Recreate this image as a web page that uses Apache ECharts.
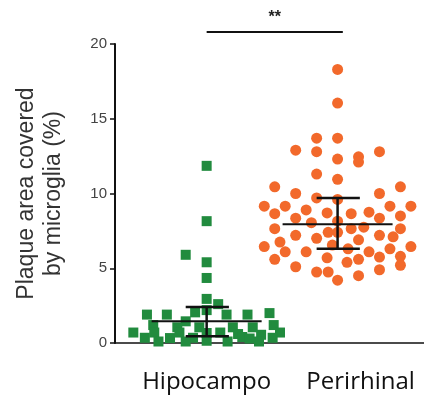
<!DOCTYPE html>
<html>
<head>
<meta charset="utf-8">
<script src="https://cdn.jsdelivr.net/npm/echarts@6/dist/echarts.min.js"></script>
<style>
  html, body { margin: 0; padding: 0; background: #fff; }
  #chart { width: 424px; height: 396px; }
</style>
</head>
<body>
<div id="chart"></div>
<script>
// groups and their place on the hidden x scale
const categories = ['Hipocampo', 'Perirhinal']
const groupPos = [1, 2]

// each point: [lane offset from group centre, value in %]
const hipocampo = [
  [0, 11.85], [0, 8.15], [-2, 5.9], [0, 5.4], [0, 4.35], [0, 2.95], [1.1, 2.6],
  [-1.1, 2.05], [0, 2.2], [-5.7, 1.9], [-3.8, 1.9], [1.9, 1.9], [3.9, 1.9], [6, 2.0],
  [-2, 1.45], [-5.1, 1.2], [-2.8, 1.05], [-0.7, 1.05], [2.5, 1.05], [4.4, 1.05],
  [6.4, 1.2], [-7, 0.7], [-5, 0.7], [-2.6, 0.7], [0, 0.67], [1.3, 0.7], [3, 0.6],
  [5.2, 0.55], [7, 0.7], [-5.9, 0.35], [-3.5, 0.33], [-1.3, 0.35], [0, 0.15],
  [2, 0.1], [3.4, 0.4], [4.1, 0.3], [6.3, 0.35], [-4.6, 0.1], [-2, 0.1], [5, 0.1]
]
const perirhinal = [
  [0, 18.3], [0, 16.05], [-2, 13.7], [0, 13.7], [-4, 12.9], [-2, 12.8], [0, 12.3],
  [2, 12.45], [2, 12.1], [4, 12.8], [-2, 11.3], [0, 10.95], [-6, 10.45], [6, 10.45],
  [-4, 10.0], [4, 10.0], [-2, 9.7], [0, 9.6], [-7, 9.15], [-5, 9.15], [5, 9.15],
  [7, 9.15], [-3, 8.9], [3, 8.75], [-6, 8.65], [-1, 8.7], [1.3, 8.65], [6, 8.5],
  [-4, 8.35], [4, 8.35], [-2.5, 8.05], [0, 8.15], [2.5, 7.75], [-6, 7.65], [6, 7.65],
  [-0.9, 7.4], [1.3, 7.65], [0, 7.4], [-4, 7.2], [4, 7.2], [-2, 7.0], [2, 6.9],
  [5.3, 7.1], [-5.5, 6.75], [-7, 6.45], [-0.5, 6.55], [1, 6.3], [7, 6.45], [-5, 6.1],
  [-3, 6.1], [3, 6.1], [5, 6.3], [-6, 5.6], [-1, 5.7], [2, 5.6], [4, 5.75], [6, 5.8],
  [6, 5.2], [-4, 5.1], [0.9, 5.4], [4, 4.9], [-2, 4.75], [-0.9, 4.75], [2, 4.5], [0, 4.2]
]

// mean and error bar ends
const means = [1.45, 7.95]
const upper = [2.4, 9.7]
const lower = [0.45, 6.3]

// significance bracket
const sigSpan = [1, 2.04]
const sigLevel = 20.8
const sigLabel = '**'

const yTicks = [0, 5, 10, 15, 20]

const LANE = 0.08

function toPoints(list, center) {
  return list.map(p => [center + p[0] * LANE, p[1]])
}

const chart = echarts.init(document.getElementById('chart'))

chart.setOption({
  animation: false,
  grid: { left: 115, right: 0, top: 44, bottom: 53 },
  xAxis: {
    type: 'value',
    min: 0.3,
    max: 2.66,
    splitLine: { show: false },
    axisLine: { show: true, onZero: false, lineStyle: { color: '#111', width: 1.5 } },
    axisTick: { show: false },
    axisLabel: {
      customValues: groupPos,
      margin: 27,
      formatter: v => v === groupPos[0] ? '{a|' + categories[0] + '}' : '{b|' + categories[1] + '}',
      rich: {
        a: { fontFamily: 'Open Sans', fontSize: 24, color: '#111' },
        b: { fontFamily: 'Open Sans', fontSize: 24, color: '#111', padding: [0, 0, 10, 46] }
      }
    }
  },
  yAxis: {
    type: 'value',
    min: yTicks[0],
    max: yTicks[yTicks.length - 1],
    interval: 5,
    splitLine: { show: false },
    axisLine: { show: true, lineStyle: { color: '#111', width: 2 } },
    axisTick: { show: true, length: 5, lineStyle: { color: '#111', width: 1.5 } },
    axisLabel: { fontFamily: 'Liberation Sans', fontSize: 15, color: '#444', margin: 8 },
    name: 'Plaque area covered\nby microglia (%)',
    nameLocation: 'middle',
    nameRotate: 90,
    nameGap: 48,
    nameTextStyle: { fontFamily: 'Liberation Sans', fontSize: 23, lineHeight: 27, color: '#333' }
  },
  series: [
    {
      type: 'scatter',
      data: toPoints(hipocampo, groupPos[0]),
      symbol: 'rect',
      symbolSize: 10,
      itemStyle: { color: '#218b3e', opacity: 1 },
      z: 2
    },
    {
      type: 'scatter',
      data: toPoints(perirhinal, groupPos[1]),
      symbol: 'circle',
      symbolSize: 11,
      itemStyle: { color: '#f2692b', opacity: 1 },
      z: 2
    },
    {
      type: 'custom',
      z: 5,
      data: groupPos.map((g, i) => [g, means[i], upper[i], lower[i]]),
      renderItem(params, api) {
        const g = api.value(0)
        const mid = api.coord([g, api.value(1)])
        const top = api.coord([g, api.value(2)])
        const bot = api.coord([g, api.value(3)])
        const meanL = api.coord([g - 0.42, 0])[0]
        const meanR = api.coord([g + 0.42, 0])[0]
        const capL = api.coord([g - 0.16, 0])[0]
        const capR = api.coord([g + 0.17, 0])[0]
        const st = { stroke: '#111', lineWidth: 2.5 }
        return {
          type: 'group',
          children: [
            { type: 'line', shape: { x1: meanL, y1: mid[1], x2: meanR, y2: mid[1] }, style: { stroke: '#111', lineWidth: 2 } },
            { type: 'line', shape: { x1: top[0], y1: top[1], x2: bot[0], y2: bot[1] }, style: st },
            { type: 'line', shape: { x1: capL, y1: top[1], x2: capR, y2: top[1] }, style: st },
            { type: 'line', shape: { x1: capL, y1: bot[1], x2: capR, y2: bot[1] }, style: st }
          ]
        }
      }
    },
    {
      type: 'custom',
      z: 5,
      clip: false,
      data: [[sigSpan[0], sigSpan[1], sigLevel]],
      renderItem(params, api) {
        const a = api.coord([api.value(0), api.value(2)])
        const b = api.coord([api.value(1), api.value(2)])
        return {
          type: 'group',
          children: [
            { type: 'line', shape: { x1: a[0], y1: a[1], x2: b[0], y2: b[1] }, style: { stroke: '#111', lineWidth: 2 } },
            {
              type: 'text',
              style: {
                x: (a[0] + b[0]) / 2, y: a[1] - 6, text: sigLabel,
                align: 'center', verticalAlign: 'bottom',
                fontFamily: 'Liberation Sans', fontSize: 16, fontWeight: 'bold', fill: '#222'
              }
            }
          ]
        }
      }
    }
  ]
})
</script>
</body>
</html>
